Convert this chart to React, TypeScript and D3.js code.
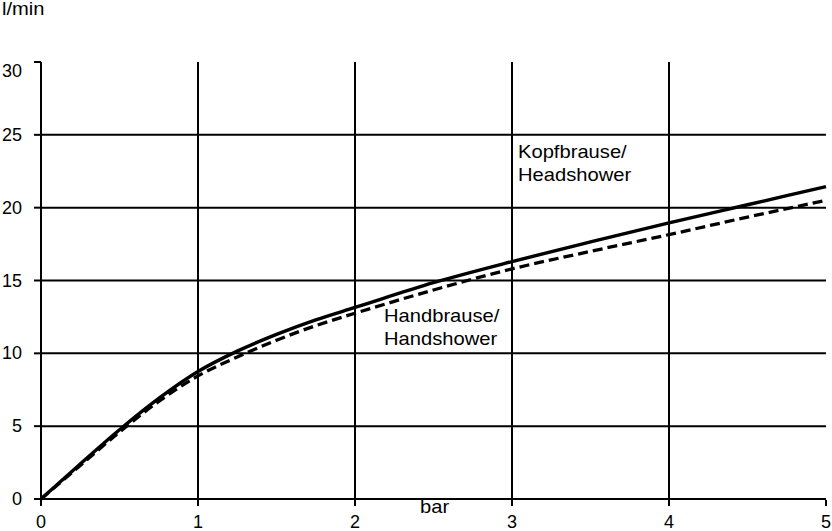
import React from "react";
import * as d3 from "d3";

const pressure = [0, 0.25, 0.5, 0.75, 1, 1.25, 1.5, 1.75, 2, 2.5, 3, 3.5, 4, 4.5, 5];
const headshower = [0, 2.4, 4.75, 6.9, 8.75, 10.15, 11.3, 12.3, 13.15, 14.85, 16.3, 17.65, 18.95, 20.2, 21.45];
const handshower = [0, 2.3, 4.6, 6.7, 8.45, 9.75, 10.9, 11.9, 12.75, 14.35, 15.8, 17.0, 18.15, 19.35, 20.5];
const xTicks = [0, 1, 2, 3, 4, 5];
const yTicks = [0, 5, 10, 15, 20, 25, 30];
const yUnit = "l/min";
const xUnit = "bar";
const headLabel = ["Kopfbrause/", "Headshower"];
const handLabel = ["Handbrause/", "Handshower"];

export default function App() {
  const W = 832, H = 531;
  const x = d3.scaleLinear().domain([0, 5]).range([41, 826]);
  const y = d3.scaleLinear().domain([0, 30]).range([499, 62]);
  const line = d3
    .line<number>()
    .x((_, i) => x(pressure[i]))
    .y((d) => y(d))
    .curve(d3.curveMonotoneX);
  const font = "'Liberation Sans', Arial, sans-serif";
  const stretch = 1.12;
  return (
    <div style={{ position: "fixed", left: 0, top: 0 }}>
      <svg width={W} height={H} style={{ display: "block", background: "#fff" }} fontFamily={font}>
        <rect x={0} y={0} width={W} height={H} fill="#fff" />
        {yTicks.filter((t) => t > 0 && t < 30).map((t) => (
          <line key={"h" + t} x1={x(0)} x2={x(5)} y1={y(t)} y2={y(t)} stroke="#000" strokeWidth={2} />
        ))}
        {xTicks.filter((t) => t > 0 && t < 5).map((t) => (
          <line key={"v" + t} x1={x(t)} x2={x(t)} y1={y(30)} y2={y(0)} stroke="#000" strokeWidth={2} />
        ))}
        <line x1={x(0)} x2={x(0)} y1={y(30)} y2={y(0)} stroke="#000" strokeWidth={2} />
        <line x1={x(0) - 7} x2={x(5)} y1={y(0)} y2={y(0)} stroke="#000" strokeWidth={2} />
        {yTicks.map((t) => (
          <line key={"yt" + t} x1={x(0) - 7} x2={x(0)} y1={y(t)} y2={y(t)} stroke="#000" strokeWidth={2} />
        ))}
        {xTicks.map((t) => (
          <line key={"xt" + t} x1={x(t)} x2={x(t)} y1={y(0) + 1} y2={y(0) + 7} stroke="#000" strokeWidth={2} />
        ))}
        {yTicks.map((t) => (
          <text key={"yl" + t} x={22} y={y(t) + (t === 30 ? 15 : 6)} textAnchor="end" fontSize={18} fill="#000">
            {t}
          </text>
        ))}
        {xTicks.map((t) => (
          <text key={"xl" + t} x={x(t)} y={528} textAnchor="middle" fontSize={18} fill="#000">
            {t}
          </text>
        ))}
        <g transform={`translate(2,0) scale(${stretch},1)`}>
          <text x={0} y={15} fontSize={18} fill="#000">{yUnit}</text>
        </g>
        <g transform={`translate(420,0) scale(${stretch},1)`}>
          <text x={0} y={513} fontSize={18} fill="#000">{xUnit}</text>
        </g>
        <path d={line(handshower) || ""} fill="none" stroke="#000" strokeWidth={3.3} strokeDasharray="10 5" />
        <path d={line(headshower) || ""} fill="none" stroke="#000" strokeWidth={3.4} />
        <g transform={`translate(518,0) scale(${stretch},1)`}>
          <text x={0} y={158} fontSize={18} fill="#000">{headLabel[0]}</text>
          <text x={0} y={181} fontSize={18} fill="#000">{headLabel[1]}</text>
        </g>
        <g transform={`translate(384,0) scale(${stretch},1)`}>
          <text x={0} y={322} fontSize={18} fill="#000">{handLabel[0]}</text>
          <text x={0} y={345} fontSize={18} fill="#000">{handLabel[1]}</text>
        </g>
      </svg>
    </div>
  );
}
